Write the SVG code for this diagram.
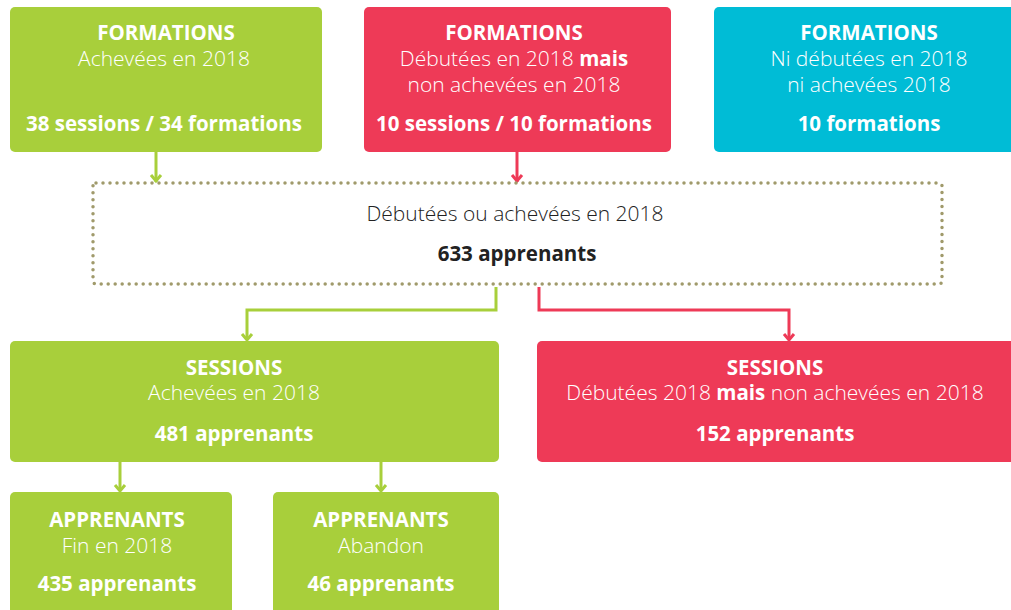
<svg xmlns="http://www.w3.org/2000/svg" width="1011" height="610" viewBox="0 0 1011 610">
<style>
text{font-family:"Open Sans","Noto Sans","Liberation Sans",sans-serif;font-size:21px;text-anchor:middle;fill:#fff}
.b{font-weight:700;font-size:20.5px}
.l{font-weight:300}
.d{fill:#222}
.g{fill:#a8cf3b}
.r{fill:#ee3a57}
.c{fill:#00bcd6}
.cg{stroke:#a8cf3b;stroke-width:3;fill:none}
.cr{stroke:#ee3a57;stroke-width:3;fill:none}
</style>
<g id="connectors">
<path class="cg" d="M156,152 V182"/>
<path class="cr" d="M517,152 V182"/>
<path class="cg" d="M496,287 V310 H247 V340"/>
<path class="cr" d="M539,287 V310 H789 V340"/>
<path class="cg" d="M120,462 V491"/>
<path class="cg" d="M381,462 V491"/>
<path d="M151,175 L156,181 L161,175" class="cg"/>
<path d="M512,175 L517,181 L522,175" class="cr"/>
<path d="M242,334 L247,340 L252,334" class="cg"/>
<path d="M784,334 L789,340 L794,334" class="cr"/>
<path d="M115,485 L120,491 L125,485" class="cg"/>
<path d="M376,485 L381,491 L386,485" class="cg"/>
</g>
<g id="f1">
<rect class="g" x="10" y="7" width="312" height="145" rx="5"/>
<text class="b" x="166" y="40">FORMATIONS</text>
<text class="l" x="164" y="66">Achevées en 2018</text>
<text class="b" x="164" y="131">38 sessions / 34 formations</text>
</g>
<g id="f2">
<rect class="r" x="364" y="7" width="307" height="145" rx="5"/>
<text class="b" x="514" y="40">FORMATIONS</text>
<text class="l" x="514" y="66">Débutées en 2018 <tspan class="b">mais</tspan></text>
<text class="l" x="514" y="92">non achevées en 2018</text>
<text class="b" x="514" y="131">10 sessions / 10 formations</text>
</g>
<g id="f3">
<rect class="c" x="714" y="7" width="310" height="145" rx="5"/>
<text class="b" x="869" y="40">FORMATIONS</text>
<text class="l" x="869" y="66">Ni débutées en 2018</text>
<text class="l" x="869" y="92">ni achevées 2018</text>
<text class="b" x="869" y="131">10 formations</text>
</g>
<g id="total">
<rect x="93" y="183" width="849" height="101" rx="3" fill="none" stroke="#a09a6b" stroke-width="3.5" stroke-linecap="round" stroke-dasharray="0 7"/>
<text class="l d" x="515" y="221">Débutées ou achevées en 2018</text>
<text class="b d" x="517" y="261">633 apprenants</text>
</g>
<g id="s1">
<rect class="g" x="10" y="341" width="489" height="121" rx="5"/>
<text class="b" x="234" y="375">SESSIONS</text>
<text class="l" x="234" y="400">Achevées en 2018</text>
<text class="b" x="234" y="441">481 apprenants</text>
</g>
<g id="s2">
<rect class="r" x="537" y="341" width="484" height="121" rx="5"/>
<text class="b" x="775" y="375">SESSIONS</text>
<text class="l" x="775" y="400">Débutées 2018 <tspan class="b">mais</tspan> non achevées en 2018</text>
<text class="b" x="775" y="441">152 apprenants</text>
</g>
<g id="a1">
<rect class="g" x="10" y="492" width="222" height="130" rx="5"/>
<text class="b" x="117" y="527">APPRENANTS</text>
<text class="l" x="117" y="553">Fin en 2018</text>
<text class="b" x="117" y="591">435 apprenants</text>
</g>
<g id="a2">
<rect class="g" x="273" y="492" width="226" height="130" rx="5"/>
<text class="b" x="381" y="527">APPRENANTS</text>
<text class="l" x="381" y="553">Abandon</text>
<text class="b" x="381" y="591">46 apprenants</text>
</g>
</svg>
